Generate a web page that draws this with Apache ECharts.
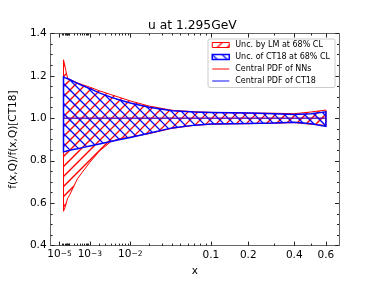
<!DOCTYPE html>
<html><head><meta charset="utf-8">
<script src="https://cdn.jsdelivr.net/npm/echarts@6/dist/echarts.min.js"></script>
<style>html,body{margin:0;padding:0;background:#fff}#c{width:376px;height:282px}</style>
</head><body><div id="c"></div>
<script>
// ---- data ----
const xVals   = [3e-5, 4e-5, 5e-5, 7e-5, 1e-4, 2e-4, 3e-4, 5e-4, 1e-3, 2e-3, 4e-3, 6e-3, 1e-2, 2e-2, 4e-2, 0.07, 0.1, 0.15, 0.2, 0.3, 0.4, 0.5, 0.6];
const lmUpper = [1.276, 1.25, 1.225, 1.19, 1.183, 1.174, 1.167, 1.159, 1.147, 1.13, 1.112, 1.1, 1.082, 1.058, 1.038, 1.031, 1.028, 1.026, 1.025, 1.024, 1.022, 1.03, 1.039];
const lmLower = [0.562, 0.577, 0.593, 0.623, 0.639, 0.685, 0.716, 0.746, 0.793, 0.845, 0.89, 0.903, 0.912, 0.928, 0.953, 0.967, 0.972, 0.974, 0.975, 0.977, 0.98, 0.972, 0.967];
const ctUpper = [1.195, 1.192, 1.19, 1.187, 1.183, 1.172, 1.165, 1.155, 1.14, 1.12, 1.1, 1.088, 1.072, 1.052, 1.036, 1.03, 1.028, 1.026, 1.025, 1.022, 1.018, 1.022, 1.031];
const ctLower = [0.842, 0.843, 0.845, 0.847, 0.849, 0.854, 0.857, 0.862, 0.87, 0.879, 0.891, 0.899, 0.91, 0.93, 0.955, 0.968, 0.973, 0.975, 0.976, 0.978, 0.982, 0.975, 0.962];
const nnCentral = [1, 1, 1, 1, 1, 1, 1, 1, 1, 1, 1, 1, 1, 1, 1, 1, 1, 1, 1, 1, 1, 1, 1];
const ctCentral = [1, 1, 1, 1, 1, 1, 1, 1, 1, 1, 1, 1, 1, 1, 1, 1, 1, 1, 1, 1, 1, 1, 1];

const xMajorTicks  = [1e-5, 1e-3, 1e-2, 0.1, 0.2, 0.4, 0.6];
const xMajorLabels = [['10','−5'], ['10','−3'], ['10','−2'], ['0.1'], ['0.2'], ['0.4'], ['0.6']];
const xMinorTicks  = [2e-5,3e-5,4e-5,5e-5,6e-5,7e-5,8e-5,9e-5,1e-4,2e-4,3e-4,4e-4,5e-4,6e-4,7e-4,8e-4,9e-4,
                      2e-3,3e-3,4e-3,5e-3,6e-3,7e-3,8e-3,9e-3,0.02,0.03,0.04,0.05,0.06,0.07,0.08,0.09,0.3,0.5];
const xRange = [1e-8, 0.7];
const yRange = [0.4, 1.4];
const yStep = 0.2;

const names = ['Unc. by LM at 68% CL', 'Unc. of CT18 at 68% CL', 'Central PDF of NNs', 'Central PDF of CT18'];
const title = 'u at 1.295GeV';

// ---- scale (x^0.3 axis) ----
const P = 0.3;
const tx = x => Math.pow(x, P);
const FONT = 'DejaVu Sans';
const HATCH = 10;
const HATCH_W = 1.25;

function hatchImg(dir, color) {
  const s = HATCH, c = document.createElement('canvas');
  c.width = s; c.height = s;
  const g = c.getContext('2d');
  g.strokeStyle = color; g.lineWidth = HATCH_W; g.beginPath();
  if (dir === '/') {
    g.moveTo(-1, s + 1); g.lineTo(s + 1, -1);
    g.moveTo(-1, 1); g.lineTo(1, -1);
    g.moveTo(s - 1, s + 1); g.lineTo(s + 1, s - 1);
  } else {
    g.moveTo(-1, -1); g.lineTo(s + 1, s + 1);
    g.moveTo(s - 1, -1); g.lineTo(s + 1, 1);
    g.moveTo(-1, s - 1); g.lineTo(1, s + 1);
  }
  g.stroke();
  return { type: 'pattern', image: c, repeat: 'repeat' };
}

function band(upper, lower, dir, stroke, lw) {
  return function (params, api) {
    const pts = [];
    for (let i = 0; i < xVals.length; i++) pts.push(api.coord([tx(xVals[i]), upper[i]]));
    for (let i = xVals.length - 1; i >= 0; i--) pts.push(api.coord([tx(xVals[i]), lower[i]]));
    let x0 = Infinity, x1 = -Infinity, y0 = Infinity, y1 = -Infinity;
    pts.forEach(p => { x0 = Math.min(x0, p[0]); x1 = Math.max(x1, p[0]); y0 = Math.min(y0, p[1]); y1 = Math.max(y1, p[1]); });
    const lines = [];
    if (dir === '/') {
      for (let c = Math.floor((x0 + y0) / HATCH) * HATCH; c <= x1 + y1; c += HATCH)
        lines.push({ type: 'line', shape: { x1: c - y1, y1: y1, x2: c - y0, y2: y0 }, style: { stroke: stroke, lineWidth: HATCH_W } });
    } else {
      for (let c = Math.floor((x0 - y1) / HATCH) * HATCH; c <= x1 - y0; c += HATCH)
        lines.push({ type: 'line', shape: { x1: c + y0, y1: y0, x2: c + y1, y2: y1 }, style: { stroke: stroke, lineWidth: HATCH_W } });
    }
    return { type: 'group', children: [
      { type: 'group', children: lines, clipPath: { type: 'polygon', shape: { points: pts } } },
      { type: 'polygon', shape: { points: pts }, style: { fill: null, stroke: stroke, lineWidth: lw } }
    ] };
  };
}

const majorU = xMajorTicks.map(tx);
const minorU = xMinorTicks.map(tx);
const xMin = tx(xRange[0]), xMax = tx(xRange[1]);
const frame = { color: '#666', width: 1 };
const tickCol = '#222';

function xLabel(v) {
  let bi = 0, bd = Infinity;
  majorU.forEach((u, i) => { const d = Math.abs(u - v); if (d < bd) { bd = d; bi = i; } });
  const l = xMajorLabels[bi];
  return l.length > 1 ? '{b|' + l[0] + '}{s|' + l[1] + '}' : '{n|' + l[0] + '}';
}

const baseX = { type: 'value', min: xMin, max: xMax, splitLine: { show: false }, gridIndex: 0 };
const xAxes = [
  Object.assign({}, baseX, {
    position: 'bottom',
    axisLine: { show: true, onZero: false, lineStyle: frame },
    axisTick: { show: true, inside: true, length: 4, customValues: majorU, lineStyle: { color: tickCol } },
    axisLabel: { show: true, customValues: majorU, formatter: xLabel, margin: 4, color: '#000',
      rich: {
        n: { fontSize: 10.5, fontFamily: FONT, color: '#000', lineHeight: 12 },
        b: { fontSize: 10.5, fontFamily: FONT, color: '#000', lineHeight: 10 },
        s: { fontSize: 7.5, fontFamily: FONT, color: '#000', lineHeight: 8, verticalAlign: 'top' }
      } },
    name: 'x', nameLocation: 'middle', nameGap: 18,
    nameTextStyle: { fontSize: 10.5, fontFamily: FONT, color: '#000' }
  }),
  Object.assign({}, baseX, {
    position: 'bottom',
    axisLine: { show: false, onZero: false },
    axisTick: { show: true, inside: true, length: 2, customValues: minorU, lineStyle: { color: tickCol } },
    axisLabel: { show: false }
  }),
  Object.assign({}, baseX, {
    position: 'top',
    axisLine: { show: true, onZero: false, lineStyle: frame },
    axisTick: { show: true, inside: true, length: 4, customValues: majorU, lineStyle: { color: tickCol } },
    axisLabel: { show: false }
  }),
  Object.assign({}, baseX, {
    position: 'top',
    axisLine: { show: false, onZero: false },
    axisTick: { show: true, inside: true, length: 2, customValues: minorU, lineStyle: { color: tickCol } },
    axisLabel: { show: false }
  })
];

const baseY = { type: 'value', min: yRange[0], max: yRange[1], interval: yStep, splitLine: { show: false },
  axisLine: { show: true, onZero: false, lineStyle: frame },
  axisTick: { show: true, inside: true, length: 4, lineStyle: { color: tickCol } },
  minorTick: { show: true, splitNumber: 4, length: 2, lineStyle: { color: tickCol } },
  minorSplitLine: { show: false } };
const yAxes = [
  Object.assign({}, baseY, {
    position: 'left',
    axisLabel: { show: true, margin: 4, fontSize: 10.5, fontFamily: FONT, color: '#000', formatter: v => v.toFixed(1) },
    name: 'f(x,Q)/f(x,Q)[CT18]', nameLocation: 'middle', nameGap: 20,
    nameTextStyle: { fontSize: 10.5, fontFamily: FONT, color: '#000' }
  }),
  Object.assign({}, baseY, { position: 'right', axisLabel: { show: false } })
];

const lineData = arr => xVals.map((x, i) => [tx(x), arr[i]]);
const lineIcon = 'path://M0,0H17V1.6H0Z';

const option = {
  animation: false,
  backgroundColor: '#fff',
  title: { text: title, left: 148, top: 20, padding: 0,
    textStyle: { fontSize: 12.3, fontWeight: 'normal', fontFamily: FONT, color: '#000' } },
  grid: { left: 47, right: 37, top: 33.5, bottom: 32, containLabel: false },
  xAxis: xAxes,
  yAxis: yAxes,
  legend: {
    orient: 'vertical', left: 208, top: 39, padding: [1.5, 5, 2, 3.5], itemGap: 3,
    itemWidth: 17, itemHeight: 5,
    backgroundColor: 'rgba(255,255,255,0.8)', borderColor: '#ccc', borderWidth: 1, borderRadius: 2,
    textStyle: { fontSize: 8, fontFamily: FONT, color: '#000', lineHeight: 9, padding: [0, 0, 0, 1] },
    data: [
      { name: names[0], icon: 'rect', itemStyle: { color: hatchImg('/', 'rgb(255,0,0)'), borderColor: '#ff0000', borderWidth: 1 } },
      { name: names[1], icon: 'rect', itemStyle: { color: hatchImg('\\', 'rgb(0,0,255)'), borderColor: '#0000ff', borderWidth: 1.5 } },
      { name: names[2], icon: lineIcon, itemStyle: { color: 'rgba(255,0,0,0.6)', borderWidth: 0 } },
      { name: names[3], icon: lineIcon, itemStyle: { color: 'rgba(0,0,255,0.6)', borderWidth: 0 } }
    ]
  },
  series: [
    { type: 'custom', name: names[0], coordinateSystem: 'cartesian2d', xAxisIndex: 0, yAxisIndex: 0,
      data: [[tx(xVals[0]), lmUpper[0]]], renderItem: band(lmUpper, lmLower, '/', '#ff0000', 1),
      itemStyle: { color: '#ff0000' }, z: 2, silent: true },
    { type: 'custom', name: names[1], coordinateSystem: 'cartesian2d', xAxisIndex: 0, yAxisIndex: 0,
      data: [[tx(xVals[0]), ctUpper[0]]], renderItem: band(ctUpper, ctLower, '\\', '#0000ff', 1.5),
      itemStyle: { color: '#0000ff' }, z: 3, silent: true },
    { type: 'line', name: names[2], xAxisIndex: 0, yAxisIndex: 0, data: lineData(nnCentral),
      symbol: 'none', lineStyle: { color: 'rgba(255,0,0,0.6)', width: 1.5 }, itemStyle: { color: 'rgba(255,0,0,0.6)' }, z: 4 },
    { type: 'line', name: names[3], xAxisIndex: 0, yAxisIndex: 0, data: lineData(ctCentral),
      symbol: 'none', lineStyle: { color: 'rgba(0,0,255,0.6)', width: 1.5 }, itemStyle: { color: 'rgba(0,0,255,0.6)' }, z: 5 }
  ]
};
const chart = echarts.init(document.getElementById('c'), null, { renderer: 'canvas' });
chart.setOption(option);
</script>
</body></html>
